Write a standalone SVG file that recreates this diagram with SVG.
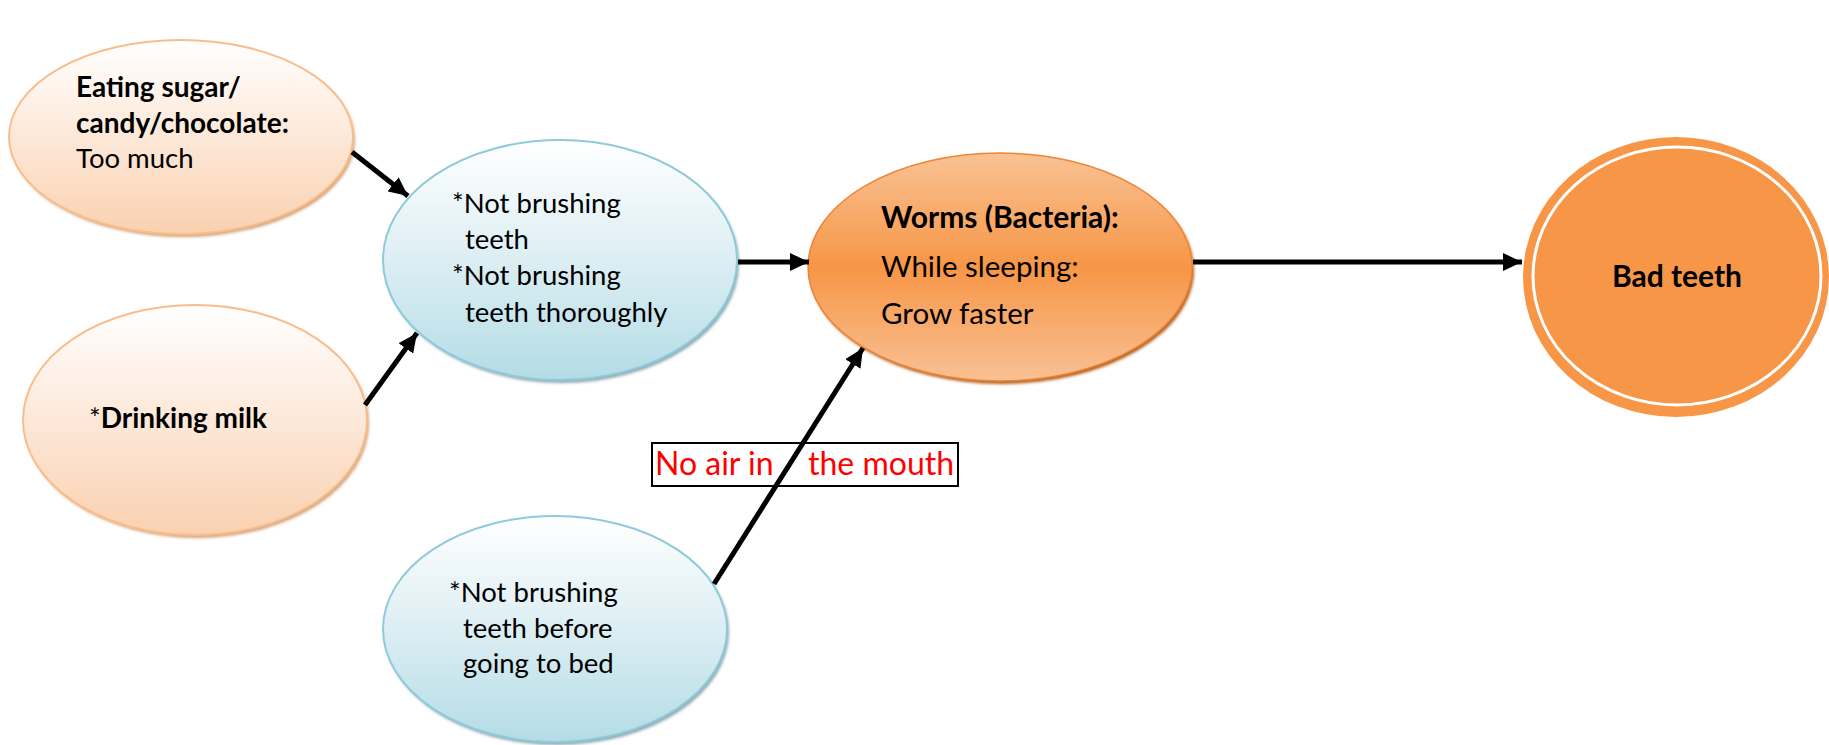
<svg xmlns="http://www.w3.org/2000/svg" width="1829" height="745" viewBox="0 0 1829 745">
<defs>
<linearGradient id="gPeach" x1="0" y1="0" x2="0" y2="1">
<stop offset="0" stop-color="#FFFFFF"/><stop offset="0.5" stop-color="#FDE8D8"/><stop offset="1" stop-color="#FAD1B0"/>
</linearGradient>
<linearGradient id="gBlue" x1="0" y1="0" x2="0" y2="1">
<stop offset="0" stop-color="#FFFFFF"/><stop offset="0.5" stop-color="#DCEEF3"/><stop offset="1" stop-color="#B4DCE6"/>
</linearGradient>
<linearGradient id="gOrange" x1="0" y1="0" x2="0" y2="1">
<stop offset="0" stop-color="#F9C294"/><stop offset="0.5" stop-color="#F79646"/><stop offset="1" stop-color="#F9C094"/>
</linearGradient>
<filter id="blur" x="-10%" y="-10%" width="120%" height="130%"><feGaussianBlur stdDeviation="1.5"/></filter>
<marker id="ah" markerUnits="userSpaceOnUse" markerWidth="20" markerHeight="18" refX="19" refY="9" orient="auto">
<path d="M0,0 L19,9 L0,18 Z" fill="#000"/>
</marker>
</defs>
<style>
.peach{fill:url(#gPeach);stroke:#F9BD8C;stroke-width:2}
.peachSh{fill:#D6A57C;filter:url(#blur)}
.blue{fill:url(#gBlue);stroke:#8ECADA;stroke-width:2}
.blueSh{fill:#8FAAB2;filter:url(#blur)}
.worm{fill:url(#gOrange);stroke:#EE8536;stroke-width:1.5}
.wormSh{fill:#B5611F;filter:url(#blur)}
.t{font-family:Lato,"Open Sans",sans-serif;font-size:27.5px;fill:#000}
.b{font-weight:bold;font-size:28px}
.w{font-size:29.5px}
.wb{font-size:30px;font-weight:bold}
.red{font-family:Lato,"Open Sans",sans-serif;font-size:32px;fill:#FF0000}
.conn line{stroke:#000;stroke-width:5;marker-end:url(#ah)}
</style>
<rect width="1829" height="745" fill="#FFFFFF"/>

<g id="node-sugar">
<ellipse class="peachSh" cx="183" cy="140" rx="172" ry="97"/>
<ellipse class="peach" cx="181" cy="137" rx="172" ry="97"/>
<text class="t b" x="76" y="97">Eating sugar/</text>
<text class="t b" x="76" y="133">candy/chocolate:</text>
<text class="t" x="76" y="168">Too much</text>
</g>

<g id="node-milk">
<ellipse class="peachSh" cx="197" cy="423" rx="172" ry="115"/>
<ellipse class="peach" cx="195" cy="420" rx="172" ry="115"/>
<text class="t" x="89" y="428">*<tspan class="b">Drinking milk</tspan></text>
</g>

<g id="node-brushing">
<ellipse class="blueSh" cx="562" cy="263" rx="177" ry="120"/>
<ellipse class="blue" cx="560" cy="260" rx="177" ry="120"/>
<text class="t" x="452" y="213">*Not brushing</text>
<text class="t" x="465" y="249">teeth</text>
<text class="t" x="452" y="285">*Not brushing</text>
<text class="t" x="465" y="322">teeth thoroughly</text>
</g>

<g id="node-bed">
<ellipse class="blueSh" cx="557" cy="632" rx="172" ry="113"/>
<ellipse class="blue" cx="555" cy="629" rx="172" ry="113"/>
<text class="t" x="449" y="602">*Not brushing</text>
<text class="t" x="463" y="638">teeth before</text>
<text class="t" x="463" y="673">going to bed</text>
</g>

<g id="node-worms">
<ellipse class="wormSh" cx="1002" cy="270" rx="192" ry="114"/>
<ellipse class="worm" cx="1000" cy="267" rx="192" ry="114"/>
<text class="t wb" x="881" y="228">Worms (Bacteria):</text>
<text class="t w" x="881" y="277">While sleeping:</text>
<text class="t w" x="881" y="324">Grow faster</text>
</g>

<g id="node-bad">
<ellipse cx="1676" cy="277" rx="153" ry="140" fill="#F79646"/>
<ellipse cx="1677" cy="276" rx="144" ry="129" fill="none" stroke="#FFFFFF" stroke-width="3"/>
<text class="t wb" x="1677" y="287" text-anchor="middle">Bad teeth</text>
</g>

<g id="label-air">
<rect x="652" y="443" width="306" height="43" fill="#FFFFFF" stroke="#000" stroke-width="2"/>
<text class="red" x="655" y="475">No air in<tspan x="808">the mouth</tspan></text>
</g>

<g id="connectors" class="conn">
<line x1="352" y1="152" x2="408" y2="196"/>
<line x1="365" y1="405" x2="417" y2="333"/>
<line x1="738" y1="262" x2="809" y2="262"/>
<line x1="714" y1="584" x2="863" y2="348"/>
<line x1="1193" y1="262" x2="1522" y2="262"/>
</g>
</svg>
